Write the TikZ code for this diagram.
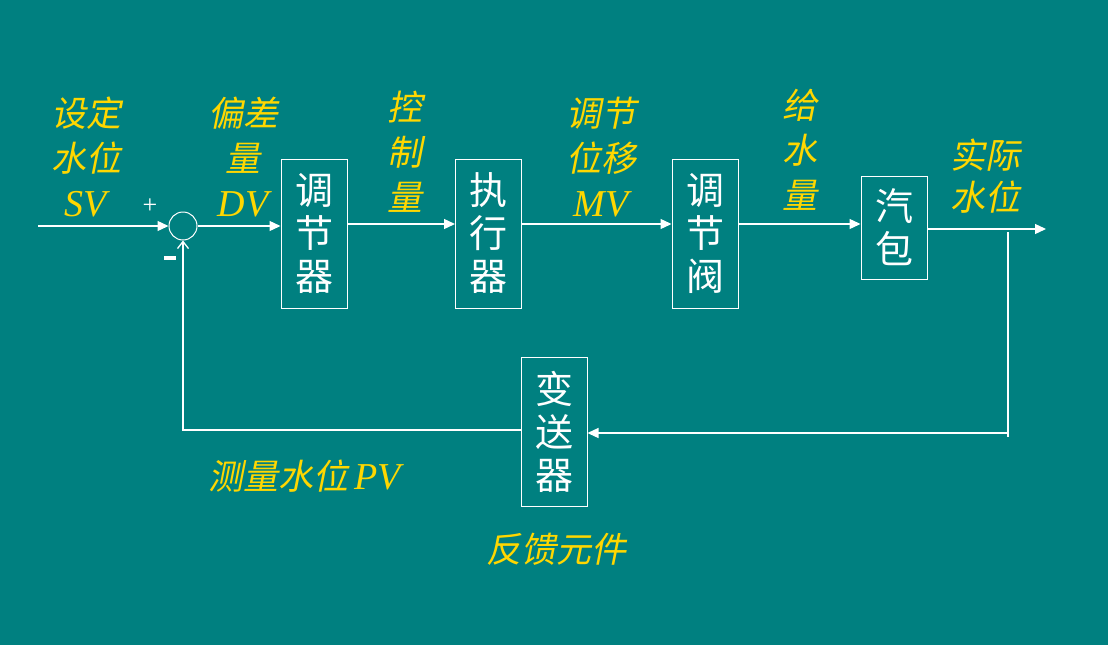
\documentclass[tikz,border=0pt]{standalone}
\usepackage{fontspec}
\setmainfont{Liberation Serif}
\newfontfamily\cjk{Noto Sans CJK SC}
\newfontfamily\cjkit[FakeSlant=0.2]{Noto Sans CJK SC}
\usetikzlibrary{arrows.meta}
\definecolor{bg}{HTML}{008080}
\definecolor{lab}{HTML}{FFD700}
\newcommand{\lat}[1]{{\rmfamily\itshape\fontsize{38}{45}\selectfont #1}}
\begin{document}
\begin{tikzpicture}[x=1pt,y=-1pt,
  blk/.style={draw=white, line width=1pt, text=white, font=\cjk\fontsize{38}{43}\selectfont, align=center, minimum width=66pt, inner sep=0pt},
  lbl/.style={text=lab, font=\cjkit\fontsize{35}{45}\selectfont, align=center, inner sep=0pt},
  wire/.style={white, line width=1.3pt},
  arr/.style={wire, -{Triangle[length=11pt,width=10pt]}},
  sgn/.style={text=white, inner sep=0pt}]
\fill[bg] (0,0) rectangle (1108,645);
\useasboundingbox (0,0) rectangle (1108,645);
% blocks
\node[blk, minimum height=149pt] (reg) at (314,233.5) {调\\节\\器};
\node[blk, minimum height=149pt] (act) at (488.5,233.5) {执\\行\\器};
\node[blk, minimum height=149pt] (valve) at (705,233.5) {调\\节\\阀};
\node[blk, minimum height=103pt] (drum) at (894,227.5) {汽\\包};
\node[blk, minimum height=149pt] (tx) at (554,431.5) {变\\送\\器};
\node[circle, draw=white, line width=1pt, minimum size=28pt, inner sep=0pt] (sum) at (183,226) {};
% coordinates
\coordinate (in) at (38,226);
\coordinate (m) at (0,224);
\coordinate (out) at (1046,229);
\coordinate (fbtop) at (1008,232);
\coordinate (fbbot) at (1008,437);
\coordinate (fbr) at (1008,433);
\coordinate (fbl) at (0,430);
% connectors
\draw[arr] (in) -- (sum.west);
\draw[arr] (sum.east) -- (sum.east -| reg.west);
\draw[arr] (reg.east |- m) -- (act.west |- m);
\draw[arr] (act.east |- m) -- (valve.west |- m);
\draw[arr] (valve.east |- m) -- (drum.west |- m);
\draw[arr] (drum.east |- out) -- (out);
\draw[wire] (fbtop) -- (fbbot);
\draw[arr] (fbr) -- (tx.east |- fbr);
\draw[wire, -{Straight Barb[length=7pt,width=11pt]}] (tx.west |- fbl) -| (sum.south);
% signs
\node[sgn, font=\fontsize{26}{26}\selectfont] (plus) at (150,206) {+};
\node[sgn] (minus) at (170,258) {\rule{12pt}{3.5pt}};
% labels
\node[lbl] (lsv) at (86,157) {设定\\水位\\\lat{SV}};
\node[lbl] (ldv) at (243,157) {偏差\\量\\\lat{DV}};
\node[lbl] (lcv) at (405,152) {控\\制\\量};
\node[lbl] (lmv) at (601,157) {调节\\位移\\\lat{MV}};
\node[lbl] (lw) at (800,150) {给\\水\\量};
\node[lbl, font=\cjkit\fontsize{35}{42}\selectfont] (lac) at (985,176) {实际\\水位};
\node[lbl] (lpv) at (305,476) {测量水位\,\lat{PV}};
\node[lbl] (lfb) at (556,549) {反馈元件};
\end{tikzpicture}
\end{document}
